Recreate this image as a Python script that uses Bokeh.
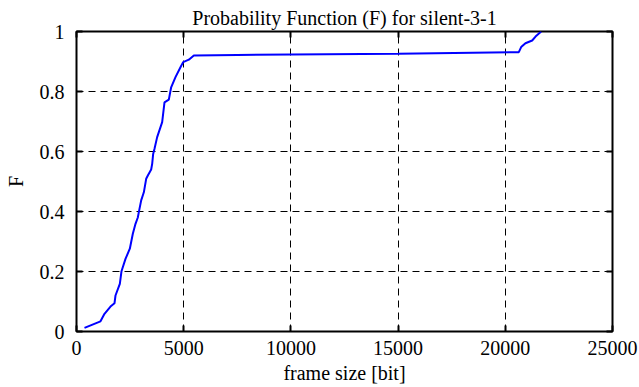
from bokeh.plotting import figure
from bokeh.models import Range1d, FixedTicker, LinearAxis
from bokeh.embed import file_html
from bokeh.resources import INLINE

frame_size = [373, 1119, 1306, 1586, 1772, 1819, 2021, 2099, 2285, 2487, 2627,
              2752, 2860, 2907, 3017, 3141, 3250, 3328, 3483, 3530, 3576, 3638,
              3762, 3996, 4104, 4306, 4415, 4617, 4850, 4975, 5240, 5473, 7500,
              10000, 15000, 20630, 20740, 20940, 21254, 21410, 21674]
F_values = [0.012, 0.034, 0.059, 0.083, 0.094, 0.120, 0.159, 0.201, 0.242, 0.276, 0.326,
            0.359, 0.380, 0.398, 0.437, 0.464, 0.509, 0.520, 0.540, 0.559, 0.592, 0.609,
            0.648, 0.698, 0.764, 0.773, 0.814, 0.848, 0.881, 0.898, 0.906, 0.920, 0.922,
            0.923, 0.926, 0.931, 0.948, 0.961, 0.970, 0.983, 1.000]

x_ticks = [0, 5000, 10000, 15000, 20000, 25000]
y_ticks = [0.0, 0.2, 0.4, 0.6, 0.8, 1.0]
y_tick_labels = ["0", "0.2", "0.4", "0.6", "0.8", "1"]

title_text = "Probability Function (F) for silent-3-1"
x_label = "frame size [bit]"
y_label = "F"

FONT = "Liberation Serif"

p = figure(width=639, height=387, output_backend="svg", toolbar_location=None,
           x_range=Range1d(0, 25000), y_range=Range1d(0, 1),
           title=title_text,
           min_border_left=76, min_border_right=27, min_border_top=31, min_border_bottom=56)

p.title.align = "center"
p.title.text_font = FONT
p.title.text_font_size = "20px"
p.title.text_font_style = "normal"
p.title.text_color = "black"
p.title.standoff = 6

p.outline_line_color = "black"
p.outline_line_width = 2
p.background_fill_color = "white"
p.border_fill_color = "white"

for ax in (p.xaxis[0], p.yaxis[0]):
    ax.axis_line_color = None
    ax.major_tick_in = 6
    ax.major_tick_out = 0
    ax.minor_tick_line_color = None
    ax.major_tick_line_width = 2
    ax.major_tick_line_color = "black"
    ax.major_label_text_font = FONT
    ax.major_label_text_font_size = "20px"
    ax.major_label_text_color = "black"
    ax.axis_label_text_font = FONT
    ax.axis_label_text_font_size = "20px"
    ax.axis_label_text_font_style = "normal"
    ax.axis_label_text_color = "black"

p.xaxis[0].ticker = FixedTicker(ticks=x_ticks)
p.yaxis[0].ticker = FixedTicker(ticks=y_ticks)
p.yaxis[0].major_label_overrides = {t: l for t, l in zip(y_ticks, y_tick_labels)}
p.xaxis[0].axis_label = x_label
p.yaxis[0].axis_label = y_label
p.xaxis[0].major_label_standoff = 9
p.yaxis[0].major_label_standoff = 12
p.xaxis[0].axis_label_standoff = 4
p.yaxis[0].axis_label_standoff = 10

# mirrored ticks on top and right
top = LinearAxis(ticker=FixedTicker(ticks=x_ticks))
right = LinearAxis(ticker=FixedTicker(ticks=y_ticks))
for ax in (top, right):
    ax.axis_line_color = None
    ax.major_tick_in = 6
    ax.major_tick_out = 0
    ax.major_tick_line_width = 2
    ax.major_tick_line_color = "black"
    ax.minor_tick_line_color = None
    ax.major_label_text_font_size = "0px"
    ax.major_label_text_color = None
    ax.major_label_standoff = 0
p.add_layout(top, "above")
p.add_layout(right, "right")

for g in (p.xgrid[0], p.ygrid[0]):
    g.grid_line_color = "black"
    g.grid_line_dash = "7 5"
    g.grid_line_width = 1
p.xgrid[0].ticker = FixedTicker(ticks=x_ticks)
p.ygrid[0].ticker = FixedTicker(ticks=y_ticks)

p.line(frame_size, F_values, line_color="#0000ff", line_width=2)

open("out.html", "w").write(file_html(p, INLINE))
